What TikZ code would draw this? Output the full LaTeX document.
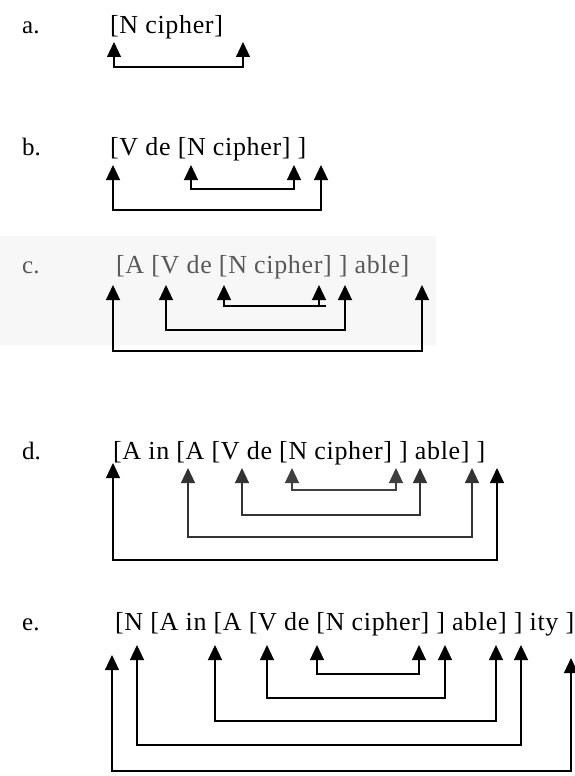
\documentclass[tikz,border=0pt]{standalone}
\usepackage{fontspec}
\setmainfont{Liberation Serif}
\usetikzlibrary{arrows.meta}
\begin{document}
\begin{tikzpicture}[x=1pt,y=-1pt,
  txt/.style={anchor=base west, inner sep=0pt, font=\fontsize{26}{30}\selectfont\addfontfeature{LetterSpace=2.5}},
  lbl/.style={anchor=base west, inner sep=0pt, font=\fontsize{25}{30}\selectfont},
  link/.style={line width=1.1pt, line join=miter, {Triangle[width=14pt,length=15pt]}-{Triangle[width=14pt,length=15pt]}},
]
\useasboundingbox (0,0) rectangle (574,776);
% panel c faint background
\fill[gray!6] (0,236) rectangle (436,345);

% ---- a ----
\node[lbl] (la) at (22,34) {a.};
\node[txt] (ta) at (110,34) {[N cipher]};
\coordinate (a1) at (114,42); \coordinate (a2) at (243,42);
\coordinate (aL1) at (0,67);
\draw[link] (a1) -- (a1 |- aL1) -- (a2 |- aL1) -- (a2);

% ---- b ----
\node[lbl] (lb) at (22,155) {b.};
\node[txt] (tb) at (110,155) {[V de [N cipher] ]};
\coordinate (b1) at (113,165); \coordinate (b2) at (191,165);
\coordinate (b3) at (294,165); \coordinate (b4) at (321,165);
\coordinate (bL1) at (0,189); \coordinate (bL2) at (0,210);
\draw[link] (b2) -- (b2 |- bL1) -- (b3 |- bL1) -- (b3);
\draw[link] (b1) -- (b1 |- bL2) -- (b4 |- bL2) -- (b4);

% ---- c ----
\node[lbl, text=black!65] (lc) at (22,273) {c.};
\node[txt, text=black!65] (tc) at (116,273) {[A [V de [N cipher] ] able]};
\coordinate (c1) at (113,285); \coordinate (c2) at (166,285);
\coordinate (c3) at (224,285); \coordinate (c4) at (319,285);
\coordinate (c5) at (345,285); \coordinate (c6) at (422,285);
\coordinate (cL1) at (0,306); \coordinate (cL2) at (0,330); \coordinate (cL3) at (0,351);
\draw[link] (c3) -- (c3 |- cL1) -- (c4 |- cL1) -- (c4);
\draw[line width=1.1pt] (c4 |- cL1) -- ++(7,0);
\draw[link] (c2) -- (c2 |- cL2) -- (c5 |- cL2) -- (c5);
\draw[link] (c1) -- (c1 |- cL3) -- (c6 |- cL3) -- (c6);

% ---- d ----
\node[lbl] (ld) at (22,459) {d.};
\node[txt] (td) at (113,459) {[A in [A [V de [N cipher] ] able] ]};
\coordinate (d1) at (113,463); \coordinate (d2) at (188,468);
\coordinate (d3) at (242,468); \coordinate (d4) at (292,468);
\coordinate (d5) at (396,468); \coordinate (d6) at (420,468);
\coordinate (d7) at (472,468); \coordinate (d8) at (497,468);
\coordinate (dL1) at (0,490); \coordinate (dL2) at (0,515);
\coordinate (dL3) at (0,537); \coordinate (dL4) at (0,560);
\draw[link, black!75] (d4) -- (d4 |- dL1) -- (d5 |- dL1) -- (d5);
\draw[link, black!80] (d3) -- (d3 |- dL2) -- (d6 |- dL2) -- (d6);
\draw[link, black!80] (d2) -- (d2 |- dL3) -- (d7 |- dL3) -- (d7);
\draw[link] (d1) -- (d1 |- dL4) -- (d8 |- dL4) -- (d8);

% ---- e ----
\node[lbl] (le) at (22,630) {e.};
\node[txt] (te) at (115,630) {[N [A in [A [V de [N cipher] ] able] ] ity ]};
\coordinate (e1) at (112,655); \coordinate (e2) at (137,645);
\coordinate (e3) at (215,645); \coordinate (e4) at (267,645);
\coordinate (e5) at (317,645); \coordinate (e6) at (419,645);
\coordinate (e7) at (445,645); \coordinate (e8) at (496,645);
\coordinate (e9) at (521,645); \coordinate (e10) at (571,658);
\coordinate (eL1) at (0,674); \coordinate (eL2) at (0,698);
\coordinate (eL3) at (0,721); \coordinate (eL4) at (0,745);
\coordinate (eL5) at (0,771);
\draw[link] (e5) -- (e5 |- eL1) -- (e6 |- eL1) -- (e6);
\draw[link] (e4) -- (e4 |- eL2) -- (e7 |- eL2) -- (e7);
\draw[link] (e3) -- (e3 |- eL3) -- (e8 |- eL3) -- (e8);
\draw[link] (e2) -- (e2 |- eL4) -- (e9 |- eL4) -- (e9);
\draw[link] (e1) -- (e1 |- eL5) -- (e10 |- eL5) -- (e10);
\end{tikzpicture}
\end{document}
